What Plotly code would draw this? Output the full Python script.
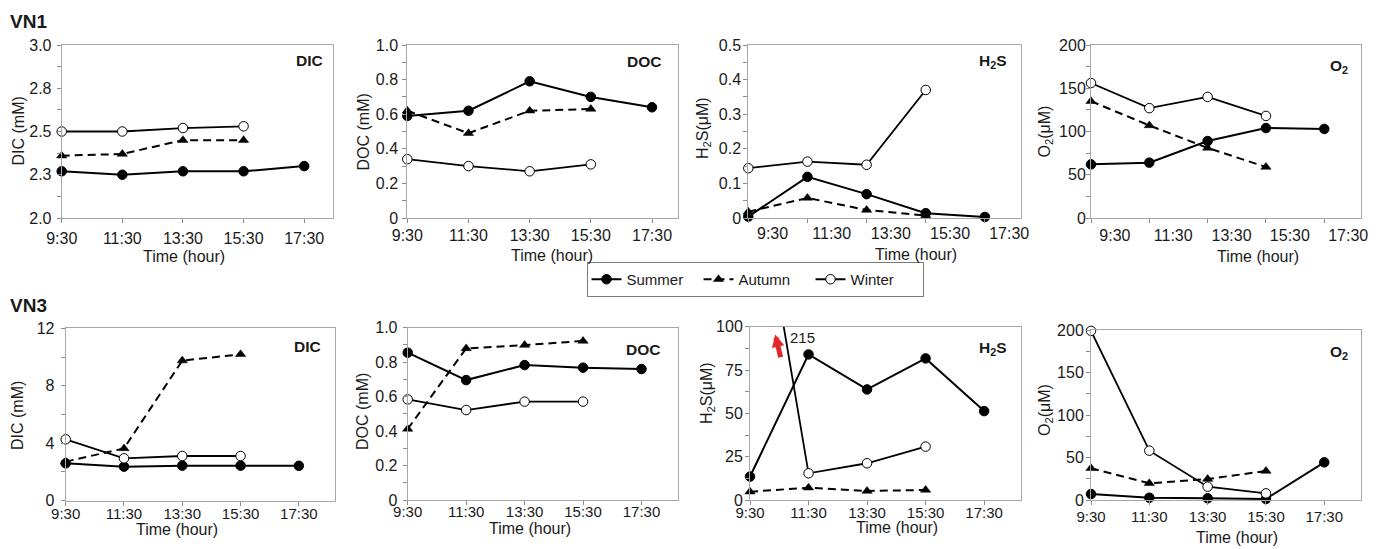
import plotly.graph_objects as go

W, H = 1384, 549

# ---------------- data ----------------
times = ["9:30", "11:30", "13:30", "15:30", "17:30"]
seasons = ["Summer", "Autumn", "Winter"]

# VN1
vn1_dic_summer = [2.27, 2.25, 2.27, 2.27, 2.30]
vn1_dic_autumn = [2.36, 2.37, 2.45, 2.45]
vn1_dic_winter = [2.50, 2.50, 2.52, 2.53]

vn1_doc_summer = [0.59, 0.62, 0.79, 0.70, 0.64]
vn1_doc_autumn = [0.62, 0.49, 0.62, 0.63]
vn1_doc_winter = [0.34, 0.30, 0.27, 0.31]

vn1_h2s_summer = [0.004, 0.119, 0.069, 0.014, 0.003]
vn1_h2s_autumn = [0.018, 0.058, 0.023, 0.007]
vn1_h2s_winter = [0.144, 0.163, 0.154, 0.37]

vn1_o2_summer = [62, 64, 89, 104, 103]
vn1_o2_autumn = [135, 107, 81, 59]
vn1_o2_winter = [156, 127, 140, 118]

# VN3
vn3_dic_summer = [2.60, 2.37, 2.44, 2.44, 2.43]
vn3_dic_autumn = [2.72, 3.64, 9.75, 10.19]
vn3_dic_winter = [4.27, 2.95, 3.11, 3.11]

vn3_doc_summer = [0.855, 0.696, 0.783, 0.768, 0.760]
vn3_doc_autumn = [0.412, 0.880, 0.899, 0.923]
vn3_doc_winter = [0.584, 0.522, 0.571, 0.571]

vn3_h2s_summer = [13.5, 84, 63.8, 81.7, 51.3]
vn3_h2s_autumn = [4.8, 7.1, 5.2, 5.8]
vn3_h2s_winter = [215, 15.4, 21.2, 30.8]

vn3_o2_summer = [7, 2.7, 2.0, 1.2, 44.3]
vn3_o2_autumn = [37.3, 19.6, 24.7, 34.1]
vn3_o2_winter = [199, 58, 15.7, 7.8]

# y tick values / labels
dic1_ticks = [2.0, 2.25, 2.5, 2.75, 3.0]
dic1_text = ["2.0", "2.3", "2.5", "2.8", "3.0"]
doc_ticks = [0, 0.2, 0.4, 0.6, 0.8, 1.0]
doc_text = ["0", "0.2", "0.4", "0.6", "0.8", "1.0"]
h2s1_ticks = [0, 0.1, 0.2, 0.3, 0.4, 0.5]
h2s1_text = ["0", "0.1", "0.2", "0.3", "0.4", "0.5"]
o2_ticks = [0, 50, 100, 150, 200]
o2_text = ["0", "50", "100", "150", "200"]
dic3_ticks = [0, 4, 8, 12]
dic3_text = ["0", "4", "8", "12"]
h2s3_ticks = [0, 25, 50, 75, 100]
h2s3_text = ["0", "25", "50", "75", "100"]

panels = [
    dict(name="DIC", ytitle="DIC (mM)", data=(vn1_dic_summer, vn1_dic_autumn, vn1_dic_winter),
         yr=[2.0, 3.0], yt=dic1_ticks, ytt=dic1_text, minor=0.125),
    dict(name="DOC", ytitle="DOC (mM)", data=(vn1_doc_summer, vn1_doc_autumn, vn1_doc_winter),
         yr=[0, 1.0], yt=doc_ticks, ytt=doc_text, minor=0.1),
    dict(name="H<sub>2</sub>S", ytitle="H<sub>2</sub>S(μM)", data=(vn1_h2s_summer, vn1_h2s_autumn, vn1_h2s_winter),
         yr=[0, 0.5], yt=h2s1_ticks, ytt=h2s1_text, minor=0.05),
    dict(name="O<sub>2</sub>", ytitle="O<sub>2</sub>(μM)", data=(vn1_o2_summer, vn1_o2_autumn, vn1_o2_winter),
         yr=[0, 200], yt=o2_ticks, ytt=o2_text, minor=25),
    dict(name="DIC", ytitle="DIC (mM)", data=(vn3_dic_summer, vn3_dic_autumn, vn3_dic_winter),
         yr=[0, 12], yt=dic3_ticks, ytt=dic3_text, minor=2),
    dict(name="DOC", ytitle="DOC (mM)", data=(vn3_doc_summer, vn3_doc_autumn, vn3_doc_winter),
         yr=[0, 1.0], yt=doc_ticks, ytt=doc_text, minor=0.1),
    dict(name="H<sub>2</sub>S", ytitle="H<sub>2</sub>S(μM)", data=(vn3_h2s_summer, vn3_h2s_autumn, vn3_h2s_winter),
         yr=[0, 100], yt=h2s3_ticks, ytt=h2s3_text, minor=12.5),
    dict(name="O<sub>2</sub>", ytitle="O<sub>2</sub>(μM)", data=(vn3_o2_summer, vn3_o2_autumn, vn3_o2_winter),
         yr=[0, 200], yt=o2_ticks, ytt=o2_text, minor=25),
]

# ---------------- layout geometry (pixels) ----------------
# box: x0, x1, ytop, ybottom ; xr: x range end ; off: tick-label offset (categories)
geom = [
    dict(box=(61.7, 333.3, 45, 218), xr=4.48, off=0.0, yt=(18, 131.5), xt=(184, 257), nm=(325, 60.5), xs=2, ys=2, tf=16),
    dict(box=(407.3, 678.3, 45, 218), xr=4.43, off=0.0, yt=(363, 131.5), xt=(552, 255), nm=(663, 61.5), xs=-1, ys=1, tf=16),
    dict(box=(748.3, 1021, 45, 218), xr=4.61, off=0.41, yt=(703, 128), xt=(916, 254.5), nm=(1009, 62), xs=1, ys=-1, tf=16),
    dict(box=(1091, 1361, 45, 218), xr=4.63, off=0.41, yt=(1045, 131.5), xt=(1258, 256.5), nm=(1350, 66), xs=3, ys=-3, tf=16),
    dict(box=(65.7, 335, 328.3, 500.7), xr=4.62, off=0.0, yt=(17, 416), xt=(177, 529.5), nm=(323, 346.5), xs=-5, ys=3, tf=15),
    dict(box=(407.7, 678.3, 327.7, 500), xr=4.63, off=0.0, yt=(362, 412), xt=(530, 528), nm=(662, 349), xs=-6, ys=2, tf=15),
    dict(box=(750, 1021, 326.7, 500), xr=4.63, off=0.0, yt=(707, 393), xt=(897, 527), nm=(1009, 348), xs=-5, ys=-1, tf=15),
    dict(box=(1091, 1361, 330, 500), xr=4.63, off=0.0, yt=(1045, 410), xt=(1237, 537), nm=(1350, 352), xs=-1, ys=-1, tf=15),
]

FONT = "Liberation Sans, Arial, Helvetica, sans-serif"
TXT = "#1a1a1a"
FRAME = "#a8a8a8"
TICKC = "#8c8c8c"

styles = {
    "Summer": dict(line=dict(color="black", width=2),
                   marker=dict(symbol="circle", size=9.5, color="black", line=dict(color="black", width=1))),
    "Autumn": dict(line=dict(color="black", width=2, dash="8px,5px"),
                   marker=dict(symbol="triangle-up", size=9, color="black", line=dict(color="black", width=0.5))),
    "Winter": dict(line=dict(color="black", width=1.8),
                   marker=dict(symbol="circle", size=9.5, color="white", line=dict(color="black", width=1))),
}

fig = go.Figure()
annotations = []
layout = dict(
    width=W, height=H, margin=dict(l=0, r=0, t=0, b=0, autoexpand=False),
    paper_bgcolor="white", plot_bgcolor="white",
    font=dict(family=FONT, size=16, color=TXT),
)

for i, (p, g) in enumerate(zip(panels, geom), start=1):
    xa = "x" if i == 1 else f"x{i}"
    ya = "y" if i == 1 else f"y{i}"
    for s, vals in zip(seasons, p["data"]):
        xs = list(range(len(vals)))
        clip = (i == 7 and s == "Winter")
        fig.add_trace(go.Scatter(
            x=xs, y=vals, mode="lines+markers", name=s, legendgroup=s,
            showlegend=(i == 1), xaxis=xa, yaxis=ya, cliponaxis=clip,
            line=styles[s]["line"], marker=styles[s]["marker"],
        ))
    x0, x1, yt0, yb0 = g["box"]
    idx = list(range(len(times)))
    off = g["off"]
    xaxis = dict(
        domain=[x0 / W, x1 / W], anchor=ya, range=[0, g["xr"]], automargin=False,
        tickmode="array", tickvals=[k + off for k in idx], ticktext=times,
        ticks="outside" if off == 0 else "", ticklen=4, tickwidth=1, tickcolor=TICKC,
        showline=True, mirror=True, linecolor=FRAME, linewidth=1,
        showgrid=False, zeroline=False, tickfont=dict(size=g["tf"], color=TXT),
        ticklabelstandoff=g["xs"],
    )
    if off != 0:
        xaxis["minor"] = dict(tickmode="array", tickvals=idx, ticks="outside",
                              ticklen=4, tickwidth=1, tickcolor=TICKC, showgrid=False)
    yaxis = dict(
        domain=[1 - yb0 / H, 1 - yt0 / H], anchor=xa, range=p["yr"], automargin=False,
        tickmode="array", tickvals=p["yt"], ticktext=p["ytt"],
        ticks="outside", ticklen=4, tickwidth=1, tickcolor=TICKC,
        minor=dict(tick0=0, dtick=p["minor"], ticks="outside", ticklen=4,
                   tickwidth=1, tickcolor=TICKC, showgrid=False),
        showline=True, mirror=True, linecolor=FRAME, linewidth=1,
        showgrid=False, zeroline=False, tickfont=dict(size=16, color=TXT),
        ticklabelstandoff=g["ys"],
    )
    layout["xaxis" if i == 1 else f"xaxis{i}"] = xaxis
    layout["yaxis" if i == 1 else f"yaxis{i}"] = yaxis

    # axis titles
    annotations.append(dict(text=p["ytitle"], xref="paper", yref="paper",
                            x=g["yt"][0] / W, y=1 - g["yt"][1] / H, textangle=-90,
                            showarrow=False, font=dict(size=16, color=TXT),
                            xanchor="center", yanchor="middle"))
    annotations.append(dict(text="Time (hour)", xref="paper", yref="paper",
                            x=g["xt"][0] / W, y=1 - g["xt"][1] / H,
                            showarrow=False, font=dict(size=16, color=TXT),
                            xanchor="center", yanchor="middle"))
    # panel name
    annotations.append(dict(text=f"<b>{p['name']}</b>", xref="paper", yref="paper",
                            x=g["nm"][0] / W, y=1 - g["nm"][1] / H,
                            showarrow=False, font=dict(size=15.5, color=TXT),
                            xanchor="right", yanchor="middle"))

# site labels
annotations.append(dict(text="<b>VN1</b>", xref="paper", yref="paper", x=8 / W, y=1 - 21.5 / H,
                        showarrow=False, font=dict(size=19, color=TXT), xanchor="left", yanchor="middle"))
annotations.append(dict(text="<b>VN3</b>", xref="paper", yref="paper", x=8 / W, y=1 - 305 / H,
                        showarrow=False, font=dict(size=19, color=TXT), xanchor="left", yanchor="middle"))

# off-scale note in VN3 H2S panel
annotations.append(dict(text=str(vn3_h2s_winter[0]), xref="x7", yref="y7", x=0.89, y=94,
                        showarrow=False, font=dict(size=15, color=TXT), xanchor="center", yanchor="middle"))
annotations.append(dict(text="", xref="x7", yref="y7", x=0.43, y=95.5,
                        axref="x7", ayref="y7", ax=0.53, ay=81.5,
                        showarrow=True, arrowhead=2, arrowsize=0.5, arrowwidth=5,
                        arrowcolor="#e3262b", standoff=0, startstandoff=0))

layout["annotations"] = annotations
layout["legend"] = dict(orientation="h", x=755 / W, y=1 - 279.5 / H, xanchor="center", yanchor="middle",
                        bordercolor="#7a7a7a", borderwidth=1, bgcolor="white",
                        font=dict(size=15, color=TXT), itemwidth=30, tracegroupgap=0,
                        entrywidth=67, entrywidthmode="pixels")
fig.update_layout(**layout)

fig.write_html("out.html", config={"displayModeBar": False},
               post_script="document.body.style.margin='0px';document.body.style.overflow='hidden';")
